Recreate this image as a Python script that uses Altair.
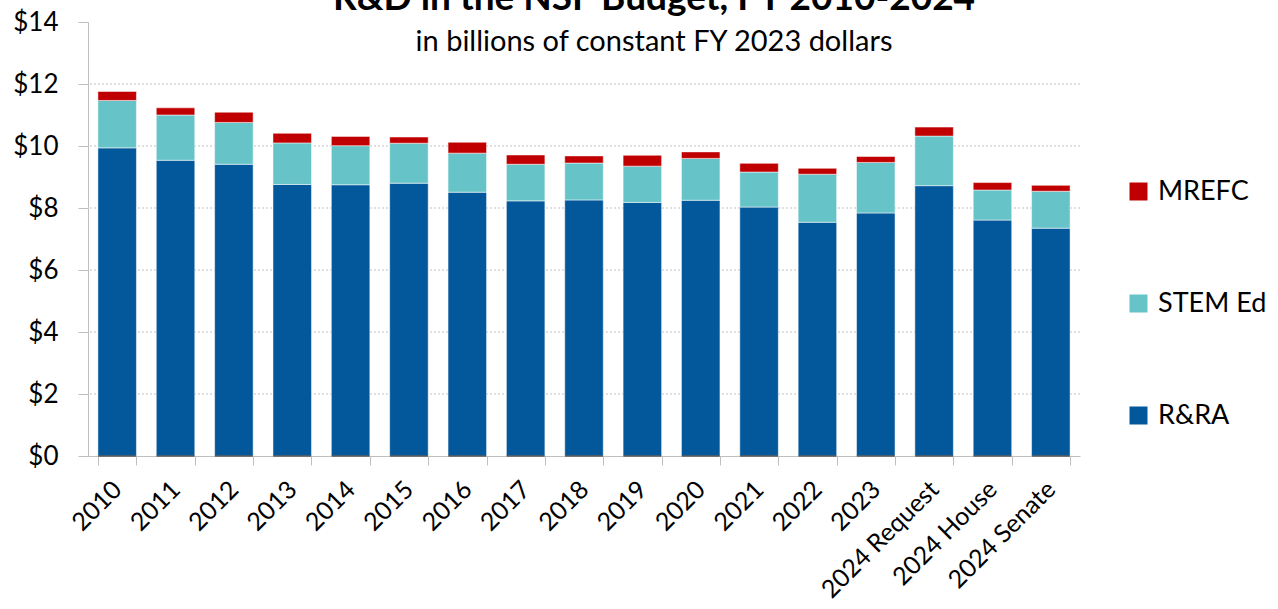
import altair as alt
import pandas as pd

years = ["2010", "2011", "2012", "2013", "2014", "2015", "2016", "2017", "2018",
         "2019", "2020", "2021", "2022", "2023", "2024 Request", "2024 House", "2024 Senate"]
rra = [9.94, 9.54, 9.41, 8.76, 8.75, 8.80, 8.51, 8.23, 8.26, 8.18, 8.25, 8.03, 7.54, 7.84, 8.72, 7.61, 7.35]
stem = [1.53, 1.46, 1.35, 1.34, 1.26, 1.29, 1.26, 1.18, 1.19, 1.17, 1.35, 1.13, 1.55, 1.63, 1.60, 0.97, 1.19]
mrefc = [0.29, 0.23, 0.33, 0.31, 0.30, 0.20, 0.35, 0.30, 0.23, 0.35, 0.21, 0.28, 0.19, 0.19, 0.29, 0.24, 0.19]
y_ticks = [0, 2, 4, 6, 8, 10, 12, 14]
grid_values = [2, 4, 6, 8, 10, 12]

series = ["MREFC", "STEM Ed", "R&RA"]
colors = ["#C00000", "#66C3C7", "#03579B"]
stack_rank = {"R&RA": 0, "STEM Ed": 1, "MREFC": 2}

rows = []
for i, y in enumerate(years):
    for name, vals in (("R&RA", rra), ("STEM Ed", stem), ("MREFC", mrefc)):
        rows.append({"year": y, "series": name, "value": vals[i], "rank": stack_rank[name]})
df = pd.DataFrame(rows)
base_df = pd.DataFrame({"year": years, "zero": [0] * len(years)})
grid_df = pd.DataFrame({"g": grid_values})

FONT = "Lato"
y_scale = alt.Scale(domain=[0, 14], nice=False)
y_axis = alt.Axis(values=y_ticks, labelExpr="'$' + datum.value",
                  labelFontSize=26, labelFont=FONT, labelColor="#000000",
                  labelPadding=20, tickSize=10, tickColor="#BFBFBF",
                  domainColor="#BFBFBF", grid=False)

x_enc = alt.X("year:N", sort=years, title=None,
              scale=alt.Scale(paddingInner=0.34, paddingOuter=0.17),
              axis=alt.Axis(labelAngle=-45, labelAlign="right", labelBaseline="middle",
                            labelFontSize=25, labelFont=FONT, labelColor="#000000",
                            labelPadding=20, tickBand="extent", tickSize=9,
                            tickColor="#BFBFBF", domainColor="#BFBFBF", labelLimit=300))

grid = alt.Chart(grid_df).mark_rule(color="#BFBFBF", strokeDash=[2, 2], strokeWidth=1).encode(
    y=alt.Y("g:Q", scale=y_scale, axis=y_axis, title=None),
)

bars = alt.Chart(df).mark_bar(stroke="#FFFFFF", strokeOpacity=0.5, strokeWidth=1).encode(
    x=x_enc,
    y=alt.Y("value:Q", stack="zero", title=None, scale=y_scale, axis=y_axis),
    color=alt.Color("series:N", scale=alt.Scale(domain=series, range=colors),
                    legend=alt.Legend(title=None, orient="none", legendX=1037, legendY=156,
                                      direction="vertical", symbolType="square",
                                      symbolSize=324, symbolStrokeWidth=0,
                                      labelFontSize=27, labelFont=FONT,
                                      labelColor="#000000", rowPadding=84,
                                      labelOffset=6)),
    order=alt.Order("rank:Q", sort="ascending"),
)

base_ticks = alt.Chart(base_df).mark_tick(orient="horizontal", color="#4D4D4D",
                                          thickness=2, size=38).encode(
    x=alt.X("year:N", sort=years),
    y=alt.Y("zero:Q", scale=y_scale),
)

chart = alt.layer(grid, bars, base_ticks).properties(
    width=992,
    height=434,
    background="#FFFFFF",
    title=alt.TitleParams(
        text="R&D in the NSF Budget, FY 2010-2024",
        subtitle="in billions of constant FY 2023 dollars",
        anchor="middle", dx=70, dy=49, offset=0,
        font=FONT, fontSize=37, fontWeight="bold", color="#000000",
        subtitleFont=FONT, subtitleFontSize=29, subtitleColor="#000000",
        subtitlePadding=10,
    ),
    autosize=alt.AutoSizeParams(type="none"),
    padding={"left": 88, "top": 22, "right": 198, "bottom": 153},
).configure_view(strokeWidth=0, strokeOpacity=0)

chart.save("out.html", embed_options={"renderer": "svg", "actions": False})
